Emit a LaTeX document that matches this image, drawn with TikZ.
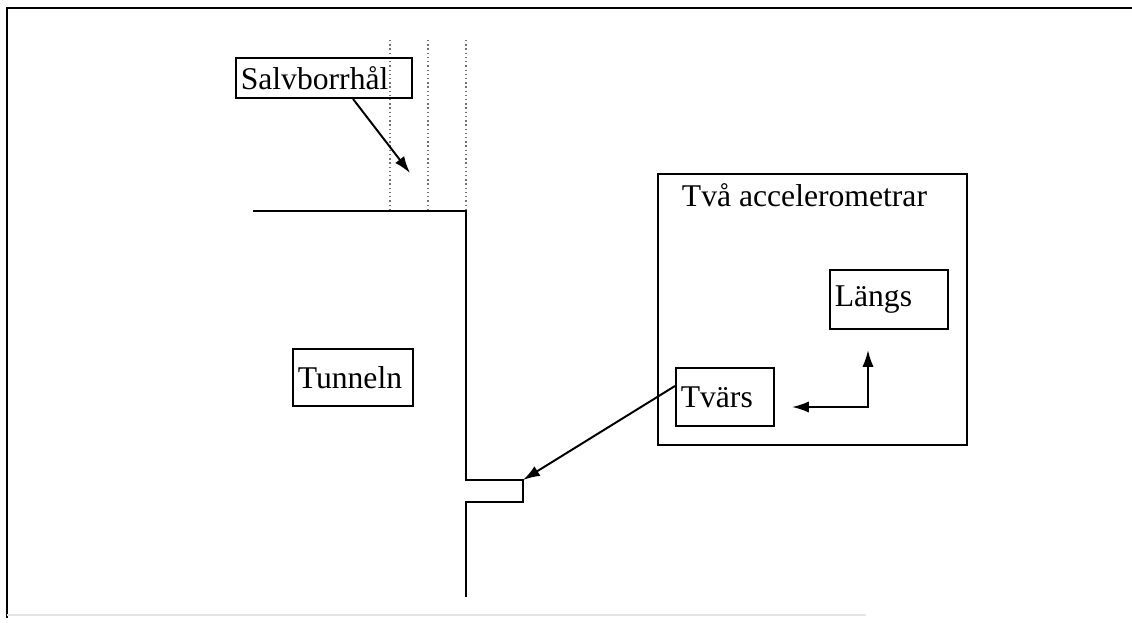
\documentclass[tikz,border=0pt]{standalone}
\usepackage{fontspec}
\setmainfont{Liberation Serif}
\usepackage{tikz}
\usetikzlibrary{arrows.meta, positioning}

\begin{document}
\begin{tikzpicture}[x=0.025cm, y=-0.025cm, line width=1.4pt,
    pil/.style={-{Latex[length=12pt, width=8pt]}},
    dubbelpil/.style={{Latex[length=12pt, width=8pt]}-{Latex[length=12pt, width=8pt]}},
    box/.style={draw, rectangle, anchor=north west, inner xsep=0.12cm, align=left,
        font=\fontsize{22.5}{26}\selectfont},
    hole/.style={dotted, line width=1pt, black!55}]

\useasboundingbox (0,0) rectangle (1132,623);

% ram
\draw[line width=1.7pt] (7,618) -- (7,8) -- (1132,8);
\draw[black!10] (7,615) -- (866,615);

% tunnelvägg med nisch
\draw (253,211) -- (466,211) -- (466,480) -- (523,480) -- (523,502) -- (466,502) -- (466,597);

% borrhål
\foreach \hx in {390, 428, 466}
    \draw[hole] (\hx,40) -- (\hx,211);

% etiketter
\node[box, text width=4.16cm, minimum height=1cm] (salv) at (235,57) {Salvborrhål};
\node[box, text width=2.76cm, minimum height=1.425cm] (tunnel) at (292,348) {Tunneln};

% accelerometrar
\node[draw, rectangle, anchor=north west, minimum width=7.725cm, minimum height=6.775cm] (acc) at (657,173) {};
\node[anchor=base west, inner sep=0, font=\fontsize{22.5}{26}\selectfont] (acctitle) at (681,207) {Två accelerometrar};
\node[box, text width=2.71cm, minimum height=1.475cm] (langs) at (829,269) {Längs};
\node[box, text width=2.21cm, minimum height=1.45cm] (tvars) at (675,367) {Tvärs};

% pilar
\coordinate (drill) at (410,173);
\coordinate (niche) at (523,480);
\coordinate (tvtip) at (792,407);
\coordinate (lgtip) at (868,350);
\draw[pil] ([xshift=2.95cm]salv.south west) -- (drill);
\draw[pil] ([yshift=0.275cm]tvars.west) -- (niche);
\draw[dubbelpil] (tvtip) -| (lgtip);

\end{tikzpicture}
\end{document}
